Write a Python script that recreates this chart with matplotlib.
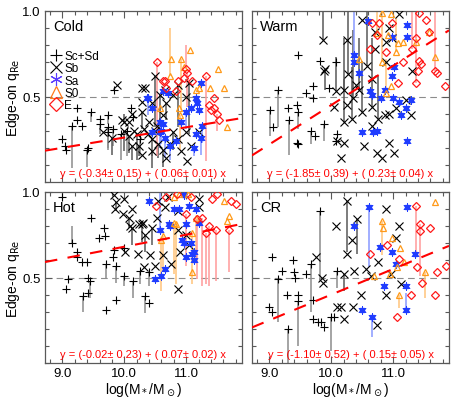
import matplotlib
matplotlib.use('Agg')
import matplotlib.pyplot as plt
from matplotlib.ticker import MultipleLocator, FixedLocator
from matplotlib.lines import Line2D
import numpy as np

plt.rcParams['font.family'] = ['Liberation Sans', 'DejaVu Sans']

# (logM, q, end of the error bar relative to q)
cold_sc = [(9.00, 0.25, 0), (9.04, 0.21, 0), (9.06, 0.19, 0), (9.15, 0.33, -0.25), (9.23, 0.43, 0),
           (9.23, 0.36, 0), (9.31, 0.33, 0), (9.40, 0.19, -0.10), (9.42, 0.20, 0), (9.47, 0.41, -0.06),
           (9.60, 0.37, 0), (9.60, 0.34, -0.06), (9.73, 0.39, -0.05), (9.74, 0.32, -0.12), (9.74, 0.29, -0.10),
           (9.82, 0.31, -0.10), (9.84, 0.54, 0), (9.95, 0.28, -0.15), (10.05, 0.30, -0.15), (10.11, 0.43, 0),
           (10.14, 0.38, 0), (10.25, 0.25, -0.10)]
cold_sb = [(9.65, 0.29, 0), (9.80, 0.26, -0.1), (9.88, 0.57, 0), (9.97, 0.36, 0), (10.0, 0.35, 0.05),
           (10.0, 0.30, -0.12), (10.07, 0.35, 0), (10.08, 0.27, -0.1), (10.13, 0.40, 0), (10.13, 0.21, -0.08),
           (10.16, 0.30, 0), (10.2, 0.28, -0.15), (10.24, 0.21, -0.06), (10.28, 0.47, 0), (10.29, 0.55, 0),
           (10.29, 0.41, -0.1), (10.29, 0.16, 0), (10.32, 0.31, 0), (10.33, 0.55, 0), (10.44, 0.25, -0.1),
           (10.45, 0.46, 0), (10.45, 0.18, -0.1), (10.49, 0.62, -0.3), (10.53, 0.33, 0), (10.57, 0.51, -0.2),
           (10.62, 0.39, 0), (10.62, 0.19, -0.1), (10.65, 0.54, 0), (10.68, 0.46, -0.1), (10.68, 0.14, 0),
           (10.73, 0.22, 0), (10.78, 0.51, 0), (10.78, 0.29, -0.1), (10.86, 0.57, -0.25), (10.86, 0.25, 0),
           (10.92, 0.18, 0), (11.0, 0.50, 0), (11.0, 0.29, 0), (11.02, 0.12, 0), (11.05, 0.58, -0.3),
           (11.08, 0.21, 0), (11.2, 0.29, 0), (10.38, 0.28, 0), (10.5, 0.30, 0), (10.55, 0.22, -0.08),
           (10.4, 0.35, 0)]
cold_sa = [(10.37, 0.49, 0), (10.39, 0.49, -0.1), (10.45, 0.43, 0), (10.44, 0.29, 0), (10.57, 0.35, -0.15),
           (10.57, 0.29, 0), (10.6, 0.30, -0.08), (10.62, 0.53, 0), (10.62, 0.34, 0), (10.65, 0.26, -0.12),
           (10.7, 0.52, 0), (10.73, 0.21, -0.08), (10.84, 0.24, 0), (10.92, 0.35, 0), (11.0, 0.41, -0.1),
           (11.08, 0.43, 0), (11.13, 0.20, -0.05), (11.16, 0.28, 0), (11.16, 0.49, 0), (11.18, 0.46, 0),
           (11.21, 0.42, 0), (11.24, 0.58, 0), (11.24, 0.26, -0.1), (11.26, 0.33, -0.1)]
cold_s0 = [(10.57, 0.43, 0), (10.73, 0.62, 0.28), (10.76, 0.72, 0), (10.89, 0.43, 0), (10.9, 0.39, -0.2),
           (10.92, 0.72, -0.3), (10.97, 0.67, 0), (11.06, 0.77, 0), (11.16, 0.54, 0), (11.21, 0.55, 0),
           (11.38, 0.55, 0), (11.51, 0.66, 0), (11.61, 0.55, 0), (11.66, 0.32, 0)]
cold_e = [(10.52, 0.70, -0.55), (10.62, 0.59, 0), (10.65, 0.59, 0), (10.67, 0.55, 0), (10.84, 0.53, 0),
          (10.86, 0.59, 0), (10.97, 0.61, 0), (11.0, 0.66, 0.14), (11.02, 0.64, -0.2), (11.1, 0.59, 0),
          (11.32, 0.62, -0.5), (11.37, 0.45, 0), (11.4, 0.42, 0), (11.45, 0.49, 0), (11.45, 0.43, 0),
          (11.5, 0.40, -0.1), (11.53, 0.36, 0)]

warm_sc = [(9.01, 0.42, -0.15), (9.06, 0.32, 0), (9.14, 0.54, -0.22), (9.30, 0.43, 0), (9.31, 0.36, -0.2),
           (9.45, 0.45, 0), (9.46, 0.41, -0.1), (9.44, 0.23, 0), (9.47, 0.22, 0), (9.46, 0.74, 0),
           (9.59, 0.52, 0), (9.70, 0.49, 0), (9.68, 0.30, -0.08), (9.70, 0.56, 0), (9.74, 0.27, 0),
           (9.81, 0.71, 0), (9.89, 0.34, -0.1), (9.96, 0.55, 0), (10.08, 0.70, 0), (10.10, 0.28, 0),
           (10.07, 0.24, 0)]
warm_sb = [(9.86, 0.83, 0.17), (9.88, 0.65, 0), (9.90, 0.66, -0.12), (10.05, 0.44, 0), (10.08, 0.53, 0.2),
           (10.10, 0.24, 0), (10.16, 0.14, 0), (10.2, 0.54, 0.3), (10.2, 0.35, 0.25), (10.2, 0.23, 0),
           (10.26, 0.83, 0), (10.27, 0.63, 0.37), (10.26, 0.45, 0), (10.34, 0.37, 0.3), (10.35, 0.49, 0.4),
           (10.4, 0.57, 0), (10.45, 0.54, 0.3), (10.5, 0.95, 0), (10.5, 0.41, 0.3), (10.52, 0.21, 0),
           (10.57, 0.68, 0.32), (10.65, 0.44, 0.4), (10.65, 0.33, 0), (10.66, 0.60, 0), (10.7, 0.88, 0),
           (10.7, 0.78, 0), (10.73, 0.17, 0), (10.75, 0.37, 0.25), (10.82, 0.14, 0), (10.86, 0.39, 0),
           (10.88, 0.82, 0), (10.89, 0.70, 0), (10.93, 0.90, 0), (10.93, 0.40, 0), (10.93, 0.23, 0),
           (10.98, 0.84, 0), (11.02, 0.17, 0), (11.05, 0.43, 0), (11.1, 0.98, 0), (11.2, 0.48, 0),
           (11.29, 0.39, 0), (11.3, 0.65, 0)]
warm_sa = [(10.36, 0.70, 0.3), (10.37, 0.74, 0), (10.44, 0.64, 0), (10.5, 0.29, 0), (10.6, 0.94, 0),
           (10.62, 0.53, 0), (10.65, 0.51, 0), (10.67, 0.29, 0), (10.73, 0.30, 0), (10.8, 0.49, 0),
           (10.86, 0.54, 0), (10.98, 0.85, 0), (10.98, 0.62, 0), (11.0, 0.49, 0), (11.01, 0.67, 0),
           (11.1, 0.47, 0), (11.13, 0.39, 0), (11.2, 0.43, 0), (11.22, 0.92, 0), (11.23, 0.85, 0),
           (11.23, 0.24, 0), (11.28, 0.48, 0)]
warm_s0 = [(10.44, 0.72, 0), (10.74, 0.87, 0.13), (10.82, 0.99, 0), (10.82, 0.70, 0.3), (10.89, 0.52, 0.2),
           (10.92, 0.86, 0), (10.97, 0.98, 0), (10.97, 0.56, 0), (11.05, 0.76, 0.2), (11.07, 0.81, 0),
           (11.15, 0.82, 0), (11.37, 0.82, 0), (11.58, 0.88, 0), (11.67, 0.73, 0)]
warm_e = [(10.62, 0.78, 0), (10.66, 0.93, 0), (10.73, 0.86, 0), (10.77, 0.93, 0), (10.89, 0.76, 0),
          (10.98, 0.93, 0), (11.07, 0.58, 0), (11.15, 0.70, 0), (11.3, 0.78, 0.22), (11.37, 0.84, 0.16),
          (11.37, 0.58, 0.42), (11.4, 0.65, 0), (11.42, 0.99, 0), (11.42, 0.71, 0), (11.45, 0.69, 0),
          (11.53, 0.95, 0), (11.58, 0.88, 0), (11.68, 0.65, 0.35), (11.7, 0.64, 0), (11.83, 0.56, 0)]

hot_sc = [(8.99, 0.97, 0), (9.06, 0.43, 0), (9.09, 0.49, 0), (9.15, 0.70, 0.1), (9.23, 0.65, 0),
          (9.23, 0.62, 0), (9.31, 0.59, 0), (9.33, 0.39, -0.09), (9.39, 0.59, 0), (9.42, 0.50, 0),
          (9.42, 0.41, 0), (9.45, 0.48, -0.1), (9.47, 0.85, 0), (9.59, 0.73, 0), (9.67, 0.79, 0),
          (9.69, 0.74, 0), (9.70, 0.58, -0.08), (9.71, 0.31, 0), (9.81, 0.62, 0), (9.84, 0.66, 0),
          (9.86, 0.57, -0.1), (9.87, 0.37, 0), (10.0, 0.67, 0), (10.0, 0.51, -0.06), (10.14, 0.48, -0.1),
          (10.25, 0.54, -0.08), (10.34, 0.39, -0.1), (10.4, 0.35, 0), (10.4, 0.53, -0.08)]
hot_sb = [(9.84, 0.98, 0), (9.85, 0.90, 0), (9.87, 0.94, -0.05), (9.98, 0.87, 0), (10.0, 0.96, 0),
          (10.01, 0.65, 0), (10.07, 0.85, -0.06), (10.1, 0.80, 0), (10.13, 0.90, 0), (10.13, 0.79, -0.1),
          (10.22, 0.64, 0), (10.23, 0.81, 0), (10.29, 0.81, -0.1), (10.3, 0.82, 0), (10.31, 0.56, 0),
          (10.33, 0.75, -0.1), (10.41, 0.63, 0), (10.45, 0.79, -0.1), (10.5, 0.57, 0), (10.52, 0.85, 0),
          (10.63, 0.63, 0), (10.65, 0.91, 0), (10.76, 0.58, 0), (10.87, 0.89, 0), (10.87, 0.78, 0),
          (10.87, 0.43, 0), (10.9, 0.65, 0), (11.0, 0.75, 0), (11.05, 0.69, 0), (11.2, 0.96, 0),
          (11.2, 0.91, 0), (10.55, 0.95, 0), (10.7, 0.97, 0)]
hot_sa = [(10.4, 0.95, 0), (10.5, 0.49, 0), (10.57, 0.78, 0.22), (10.6, 0.51, 0), (10.66, 0.55, 0),
          (10.72, 0.81, 0), (10.74, 0.80, 0), (10.8, 0.90, 0), (10.88, 0.90, 0), (10.93, 0.72, 0),
          (10.96, 0.70, 0), (10.97, 0.98, 0), (10.99, 0.62, 0), (11.0, 0.81, 0), (11.05, 0.92, 0),
          (11.08, 0.70, 0), (11.1, 0.64, 0), (11.12, 0.65, 0), (11.13, 0.60, 0), (11.15, 0.90, 0),
          (11.2, 0.82, 0)]
hot_s0 = [(10.6, 0.72, -0.3), (10.63, 0.74, -0.2), (10.8, 0.82, -0.3), (10.8, 0.97, 0), (10.84, 0.81, -0.35),
          (10.88, 0.99, 0), (11.03, 0.99, 0), (11.09, 0.53, 0), (11.09, 0.76, -0.3), (11.16, 0.85, -0.25),
          (11.61, 0.95, 0), (11.66, 0.83, 0), (11.69, 0.86, 0)]
hot_e = [(10.51, 0.92, 0), (10.68, 0.97, 0), (10.85, 0.99, 0), (10.99, 0.87, -0.3), (11.08, 0.97, 0),
         (11.18, 0.84, -0.35), (11.26, 0.85, -0.4), (11.32, 0.76, -0.3), (11.37, 0.80, -0.35), (11.42, 0.96, 0),
         (11.48, 0.78, -0.3), (11.5, 0.99, 0), (11.69, 0.78, -0.25), (11.72, 0.95, 0), (11.8, 0.93, 0)]

cr_sc = [(8.99, 0.33, 0), (9.04, 0.62, 0), (9.04, 0.30, 0), (9.14, 0.49, -0.25), (9.2, 0.54, 0),
         (9.28, 0.40, 0), (9.3, 0.20, -0.2), (9.38, 0.60, 0), (9.4, 0.53, 0), (9.41, 0.50, 0),
         (9.46, 0.40, 0), (9.46, 0.36, -0.26), (9.59, 0.52, 0), (9.68, 0.58, -0.28), (9.7, 0.37, 0),
         (9.7, 0.26, 0), (9.78, 0.24, 0), (9.81, 0.89, -0.4), (9.83, 0.24, 0), (9.88, 0.21, 0),
         (9.99, 0.27, -0.2), (10.05, 0.27, 0), (10.1, 0.54, -0.1)]
cr_sb = [(9.76, 0.62, 0), (9.85, 0.50, 0), (9.86, 0.47, 0), (10.08, 0.80, 0), (10.1, 0.33, 0),
         (10.15, 0.33, 0), (10.2, 0.26, 0), (10.2, 0.52, -0.1), (10.26, 0.95, -0.3), (10.26, 0.64, 0),
         (10.33, 0.72, 0), (10.35, 0.33, 0), (10.37, 0.54, 0), (10.42, 0.84, -0.2), (10.48, 0.40, 0),
         (10.56, 0.55, 0), (10.64, 0.51, 0), (10.73, 0.22, 0), (10.75, 0.59, 0), (10.89, 0.90, 0),
         (10.88, 0.40, 0), (10.96, 0.52, 0), (11.05, 0.73, 0), (11.1, 0.80, 0), (11.12, 0.46, 0)]
cr_sa = [(10.37, 0.80, 0), (10.5, 0.31, 0), (10.61, 0.91, -0.35), (10.66, 0.27, -0.12), (10.78, 0.68, 0),
         (10.85, 0.45, 0), (10.98, 0.65, 0), (11.05, 0.58, 0), (11.21, 0.45, 0), (11.21, 0.31, 0.1),
         (11.23, 0.91, 0), (11.35, 0.64, 0)]
cr_s0 = [(10.69, 0.51, 0), (10.82, 0.83, -0.2), (10.84, 0.79, 0), (10.95, 0.52, 0), (10.98, 0.73, 0),
         (11.06, 0.56, 0), (11.1, 0.40, -0.08), (11.11, 0.67, 0), (11.17, 0.59, 0), (11.52, 0.53, -0.15),
         (11.68, 0.94, 0)]
cr_e = [(10.63, 0.64, 0), (10.9, 0.69, 0), (11.06, 0.27, 0), (11.1, 0.61, 0), (11.29, 0.40, 0),
        (11.37, 0.92, -0.3), (11.39, 0.56, 0), (11.43, 0.81, -0.3), (11.43, 0.77, 0), (11.46, 0.47, 0),
        (11.59, 0.79, 0), (11.67, 0.40, 0), (11.71, 0.53, 0), (11.85, 0.57, 0)]

titles = ['Cold', 'Warm', 'Hot', 'CR']
intercepts = [-0.34, -1.85, -0.02, -1.10]
slopes = [0.06, 0.23, 0.07, 0.15]
fit_labels = ['y = (-0.34\u00b1 0.15) + ( 0.06\u00b1 0.01) x',
              'y = (-1.85\u00b1 0.39) + ( 0.23\u00b1 0.04) x',
              'y = (-0.02\u00b1 0.23) + ( 0.07\u00b1 0.02) x',
              'y = (-1.10\u00b1 0.52) + ( 0.15\u00b1 0.05) x']
panels = [[cold_sc, cold_sb, cold_sa, cold_s0, cold_e],
          [warm_sc, warm_sb, warm_sa, warm_s0, warm_e],
          [hot_sc, hot_sb, hot_sa, hot_s0, hot_e],
          [cr_sc, cr_sb, cr_sa, cr_s0, cr_e]]
types = ['Sc+Sd', 'Sb', 'Sa', 'S0', 'E']

# marker, colour, bar colour, size
styles = [('+', 'black', '0.55', 6),
          ('x', 'black', '0.35', 6),
          ('s', '#1f3cff', '#8899ff', 3),
          ('^', '#ff9a1a', '#ffc47a', 5),
          ('D', '#ff1a1a', '#ff9a9a', 4)]

xlim = (8.72, 11.9)
fig = plt.figure(figsize=(4.57, 4.02), dpi=100)
lefts = [45 / 457, 252 / 457, 45 / 457, 252 / 457]
bottoms = [1 - 183 / 402, 1 - 183 / 402, 1 - 364 / 402, 1 - 364 / 402]

for i in range(4):
    ax = fig.add_axes([lefts[i], bottoms[i], 197 / 457, 171 / 402])
    for grp, (m, c, bc, s) in zip(panels[i], styles):
        a = np.array(grp)
        x, y, dy = a[:, 0], a[:, 1], a[:, 2]
        has = dy != 0
        ax.vlines(x[has], y[has], y[has] + dy[has], colors=bc, lw=1.1, zorder=1)
        if m == 's':
            ax.plot(x, y, ls='none', marker='s', ms=s, color=c, zorder=3)
            ax.plot(x, y, ls='none', marker=(6, 2, 0), ms=6, mew=0.7, color=c, zorder=3)
        elif m in ('^', 'D'):
            ax.plot(x, y, ls='none', marker=m, ms=s, mfc='none', mec=c, mew=0.9, zorder=3)
        else:
            ax.plot(x, y, ls='none', marker=m, ms=s, color=c, mew=0.8, zorder=3)

    ax.axhline(0.5, color='0.55', lw=0.8, ls=(0, (6, 4)), zorder=0)
    xx = np.array(xlim)
    ax.plot(xx, intercepts[i] + slopes[i] * xx, color='red', lw=1.5, ls=(0, (6, 5)), zorder=4)
    ax.text(0.5, 0.025, fit_labels[i], transform=ax.transAxes, ha='center', va='bottom',
            color='red', fontsize=8)
    ax.text(0.04, 0.955, titles[i], transform=ax.transAxes, ha='left', va='top', fontsize=10.5)

    ax.set_xlim(xlim)
    ax.set_ylim(0, 1.0)
    ax.xaxis.set_major_locator(FixedLocator([9, 10, 11]))
    ax.xaxis.set_minor_locator(MultipleLocator(0.2))
    ax.yaxis.set_major_locator(FixedLocator([0.5, 1.0]))
    ax.yaxis.set_minor_locator(MultipleLocator(0.1))
    ax.tick_params(which='both', direction='in', top=True, right=True, labelsize=9.5,
                   color='0.35', labelcolor='black', pad=3)
    ax.tick_params(which='major', length=5, width=0.8)
    ax.tick_params(which='minor', length=3, width=0.8)
    for sp in ax.spines.values():
        sp.set_color('0.35')
        sp.set_linewidth(0.9)
    if i < 2:
        ax.set_xticklabels([])
    else:
        ax.set_xticklabels(['9.0', '10.0', '11.0'])
        ax.set_xlabel(r'log(M$_*$/M$_\odot$)', fontsize=10, labelpad=1)
    if i % 2 == 1:
        ax.set_yticklabels([])
    else:
        ax.set_yticklabels(['0.5', '1.0'])
        ax.set_ylabel(r'Edge-on q$_{\rm Re}$', fontsize=10, labelpad=0.5)

    if i == 0:
        handles = [Line2D([], [], ls='none', marker='+', ms=9, color='black', mew=0.8),
                   Line2D([], [], ls='none', marker='x', ms=8, color='black', mew=0.8),
                   Line2D([], [], ls='none', marker=(6, 2, 0), ms=9, color='#5a3cff', mew=0.8),
                   Line2D([], [], ls='none', marker='^', ms=8, mfc='none', mec='#ff7a1a', mew=0.9),
                   Line2D([], [], ls='none', marker='D', ms=7, mfc='none', mec='#ff1a1a', mew=0.9)]
        ax.legend(handles, types, loc='upper left', bbox_to_anchor=(-0.01, 0.82), frameon=False,
                  fontsize=8.5, handlelength=0.8, handletextpad=0.3, labelspacing=0.02, borderpad=0.2)

fig.savefig('out.png', dpi=100)
